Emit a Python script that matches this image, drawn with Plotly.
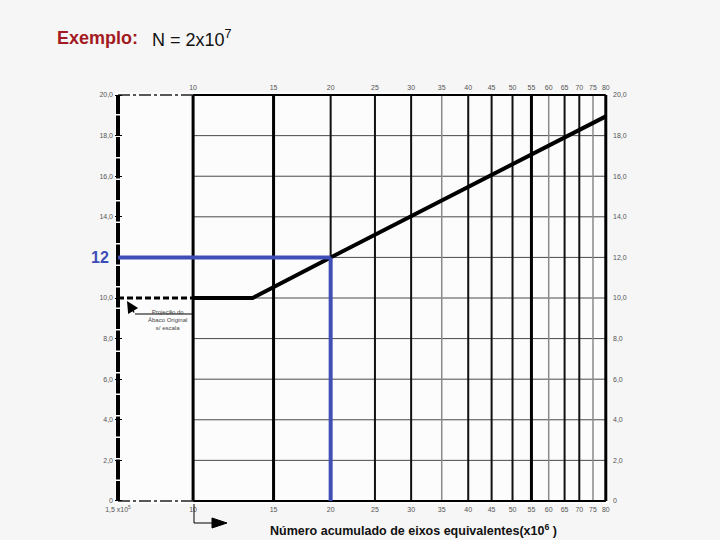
import math
import plotly.graph_objects as go

# ---------------- data ----------------
n_left = 6.85                      # left edge of the compressed (broken) part of the scale, x10^6
x_ticks = [10, 15, 20, 25, 30, 35, 40, 45, 50, 55, 60, 65, 70, 75, 80]
x_ticktext = [str(v) for v in x_ticks]
left_ticktext = "1,5 x10<sup>5</sup>"
y_ticks = [0, 2, 4, 6, 8, 10, 12, 14, 16, 18, 20]
y_ticktext = ["0", "2,0", "4,0", "6,0", "8,0", "10,0", "12,0", "14,0", "16,0", "18,0", "20,0"]

curve_N = [10, 13.5, 20, 80]          # solid design curve
curve_H = [10, 10, 12, 18.95]
proj_N = [n_left, 10]                 # dashed projection of the original chart
proj_H = [10, 10]

example_N = 20                        # N = 2x10^7
example_H = 12

thick_lines = [10, 15, 55, 80]
medium_lines = [20, 25, 30, 40, 45, 50, 65, 70]
light_lines = [35, 60, 75]
h_grid = [2, 4, 6, 8, 10, 12, 14, 16, 18]

# ---------------- geometry ----------------
L, R, T, Bm = 115, 111, 92, 36
W = 720 - L - R
H = 540 - T - Bm
B = T + H
PX_DEC = 457.0
x0 = math.log10(n_left) - 3 / PX_DEC
xrange = [x0, x0 + W / PX_DEC]
yrange = [-0.15, 20.15]


def fx(px):
    return (px - L) / W


def fy(py):
    return (B - py) / H


def vlines(xs, y0=0, y1=20):
    xx, yy = [], []
    for v in xs:
        xx += [v, v, None]
        yy += [y0, y1, None]
    return xx, yy


def hlines(ys, xa, xb):
    xx, yy = [], []
    for v in ys:
        xx += [xa, xb, None]
        yy += [v, v, None]
    return xx, yy


fig = go.Figure()


def add_line(xx, yy, color, width, dash="solid", **kw):
    fig.add_trace(go.Scatter(x=xx, y=yy, mode="lines",
                             line=dict(color=color, width=width, dash=dash),
                             hoverinfo="skip", showlegend=False, **kw))


gx, gy = hlines(h_grid, x_ticks[0], x_ticks[-1])
add_line(gx, gy, "#4a4a4a", 1)
vx, vy = vlines(light_lines)
add_line(vx, vy, "#8a8a8a", 1.5)
vx, vy = vlines(medium_lines)
add_line(vx, vy, "#111111", 2)
vx, vy = vlines(thick_lines)
add_line(vx, vy, "#000000", 3)

# frame: solid top & bottom, dash-dot over the compressed part
bx, by = hlines([0, 20], x_ticks[0], x_ticks[-1])
add_line(bx, by, "#000000", 2)
bx, by = hlines([0, 20], n_left, x_ticks[0])
add_line(bx, by, "#222222", 1.5, dash="12px,3px,3px,3px")
# left axis (notched look)
add_line([n_left, n_left], [0, 20], "#000000", 4, dash="20px,1.5px")

# curves
add_line(proj_N, proj_H, "#000000", 3, dash="6px,3px")
add_line(curve_N, curve_H, "#000000", 4)

# example reading in blue
add_line([n_left, example_N], [example_H, example_H], "#3f4fb5", 4)
add_line([example_N, example_N], [example_H, 0], "#3f4fb5", 4)

# invisible traces so the mirrored axes get drawn
fig.add_trace(go.Scatter(x=[n_left], y=[0], xaxis="x2", yaxis="y", mode="markers",
                         marker=dict(opacity=0), hoverinfo="skip", showlegend=False))
fig.add_trace(go.Scatter(x=[n_left], y=[0], xaxis="x", yaxis="y2", mode="markers",
                         marker=dict(opacity=0), hoverinfo="skip", showlegend=False))

tickfont = dict(family="Liberation Sans, Arial", size=7, color="#555555")
left_vals = [v for v in y_ticks if v != example_H]
left_text = [t for v, t in zip(y_ticks, y_ticktext) if v != example_H]

fig.update_layout(
    width=720, height=540,
    margin=dict(l=L, r=R, t=T, b=Bm, pad=0),
    paper_bgcolor="#f6f6f6", plot_bgcolor="#fcfcfc",
    showlegend=False,
    xaxis=dict(type="log", range=xrange, tickvals=[n_left] + x_ticks,
               ticktext=[left_ticktext] + x_ticktext, showgrid=False, zeroline=False,
               showline=False, ticks="", tickfont=tickfont, ticklabelstandoff=0, fixedrange=True),
    xaxis2=dict(type="log", range=xrange, overlaying="x", side="top", anchor="y",
                tickvals=x_ticks, ticktext=x_ticktext, showgrid=False, zeroline=False,
                showline=False, ticks="", tickfont=tickfont, ticklabelstandoff=0),
    yaxis=dict(range=yrange, tickvals=left_vals, ticktext=left_text, showgrid=False,
               zeroline=False, showline=False, ticks="inside", ticklen=7, tickwidth=1,
               tickcolor="#000000", tickfont=tickfont, ticklabelstandoff=1),
    yaxis2=dict(range=yrange, overlaying="y", side="right", anchor="x",
                tickvals=y_ticks, ticktext=y_ticktext, showgrid=False, zeroline=False,
                showline=False, ticks="", tickfont=tickfont, ticklabelstandoff=3),
)

ann_font = dict(family="Liberation Sans, Arial", size=6, color="#444444")
fig.add_annotation(text="<b>12</b>", x=fx(111), xref="paper", xanchor="right",
                   y=example_H, yref="y", yanchor="middle", showarrow=False,
                   font=dict(family="Liberation Sans, Arial", size=16, color="#3d4db7"))
fig.add_annotation(text="<b>Exemplo:</b>", x=fx(55), xref="paper", xanchor="left",
                   y=fy(38), yref="paper", yanchor="middle", showarrow=False,
                   font=dict(family="Liberation Sans, Arial", size=18, color="#a31a22"))
fig.add_annotation(text="N = 2x10<sup>7</sup>", x=fx(150), xref="paper", xanchor="left",
                   y=fy(38), yref="paper", yanchor="middle", showarrow=False,
                   font=dict(family="Liberation Sans, Arial", size=18, color="#111111"))
fig.add_annotation(text="<b>Número acumulado de eixos equivalentes(x10<sup>6</sup> )</b>",
                   x=fx(413), xref="paper", xanchor="center", y=fy(530), yref="paper",
                   yanchor="middle", showarrow=False,
                   font=dict(family="Liberation Sans, Arial", size=12.5, color="#111111"))
fig.add_annotation(text="Projeção do<br>Ábaco Original<br>s/ escala", x=fx(167), xref="paper",
                   xanchor="center", y=fy(320), yref="paper", yanchor="middle",
                   showarrow=False, font=ann_font)
fig.add_annotation(text="", x=fx(127), xref="paper", y=fy(301), yref="paper",
                   ax=8, ay=13, showarrow=True, arrowhead=2, arrowsize=1.8,
                   arrowwidth=1.3, arrowcolor="#000000")

# leader line under the note and the bottom "break" arrow
fig.add_shape(type="line", xref="paper", yref="paper", x0=fx(135), x1=fx(192),
              y0=fy(314), y1=fy(314), line=dict(color="#000000", width=1))
fig.add_shape(type="path", xref="paper", yref="paper",
              path=f"M {fx(194)},{fy(504)} L {fx(194)},{fy(523)} L {fx(214)},{fy(523)}",
              line=dict(color="#000000", width=1))
fig.add_shape(type="path", xref="paper", yref="paper",
              path=f"M {fx(212)},{fy(518)} L {fx(227)},{fy(523)} L {fx(212)},{fy(528)} Z",
              fillcolor="#000000", line=dict(color="#000000", width=1))

fig.write_html("out.html", post_script="document.body.style.margin='0';",
               config={"displayModeBar": False})
